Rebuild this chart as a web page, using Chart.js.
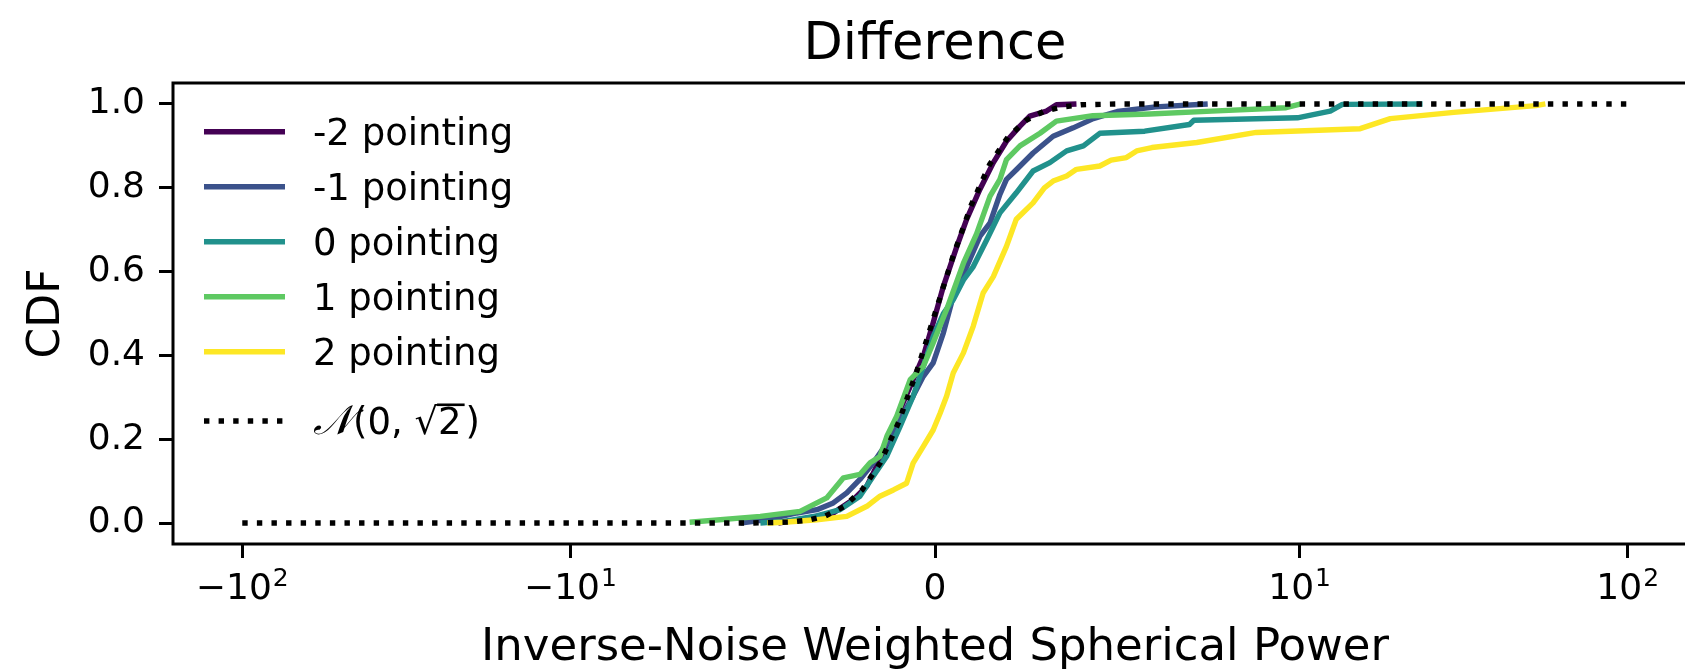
<!DOCTYPE html>
<html>
<head>
<meta charset="utf-8">
<script src="https://cdn.jsdelivr.net/npm/chart.js@4.4.0/dist/chart.umd.min.js"></script>
<style>
  html, body { margin: 0; padding: 0; background: #fff; overflow: hidden; }
  canvas { display: block; }
</style>
</head>
<body>
<canvas id="chart" width="1720" height="672"></canvas>
<script>
// ---- data ----
const seriesLabels = ['-2 pointing', '-1 pointing', '0 pointing', '1 pointing', '2 pointing'];
const seriesColors = ['#440154', '#3b528b', '#21918c', '#5ec962', '#fde725'];

const xM2 = [-4.3, -3.7, -2.79, -2.24, -1.87, -1.51, -1.23, -0.96, -0.6, -0.32, -0.05, 0.23, 0.6, 0.87, 1.23, 1.6, 1.96, 2.33, 2.6, 3.06, 3.33, 3.88];
const yM2 = [0.0, 0.008, 0.024, 0.056, 0.088, 0.152, 0.2, 0.27, 0.342, 0.398, 0.478, 0.565, 0.66, 0.725, 0.796, 0.86, 0.911, 0.947, 0.971, 0.983, 0.998, 1.0];

const xM1 = [-5.34, -4.61, -3.79, -3.24, -2.79, -2.42, -2.06, -1.69, -1.32, -0.96, -0.6, -0.32, -0.05, 0.23, 0.5, 0.87, 1.23, 1.51, 1.78, 1.96, 2.23, 2.69, 3.24, 3.79, 4.34, 5.0, 6.05, 7.48];
const yM1 = [0.0, 0.008, 0.024, 0.032, 0.048, 0.072, 0.104, 0.144, 0.191, 0.247, 0.303, 0.35, 0.382, 0.454, 0.541, 0.612, 0.684, 0.716, 0.784, 0.82, 0.843, 0.883, 0.923, 0.943, 0.965, 0.982, 0.993, 1.0];

const xP0 = [-4.79, -4.15, -3.24, -2.6, -2.06, -1.69, -1.32, -0.96, -0.6, -0.32, -0.05, 0.23, 0.5, 0.78, 1.05, 1.42, 1.78, 2.23, 2.69, 3.15, 3.61, 4.07, 4.52, 5.75, 6.98, 7.1, 9.94, 12.4, 13.5, 23.7];
const yP0 = [0.0, 0.004, 0.017, 0.032, 0.064, 0.112, 0.16, 0.23, 0.303, 0.374, 0.445, 0.5, 0.533, 0.58, 0.612, 0.676, 0.74, 0.788, 0.84, 0.86, 0.888, 0.9, 0.93, 0.935, 0.951, 0.961, 0.967, 0.983, 0.999, 1.0];

const xP1 = [-6.73, -4.79, -3.7, -2.97, -2.51, -2.06, -1.78, -1.51, -1.32, -1.05, -0.68, -0.32, -0.05, 0.32, 0.78, 1.14, 1.51, 1.78, 1.96, 2.33, 2.88, 3.33, 4.33, 5.88, 7.59, 9.63, 10.1];
const yP1 = [0.002, 0.016, 0.028, 0.06, 0.108, 0.116, 0.144, 0.159, 0.207, 0.255, 0.342, 0.374, 0.43, 0.51, 0.62, 0.69, 0.78, 0.82, 0.867, 0.9, 0.93, 0.959, 0.972, 0.976, 0.983, 0.991, 1.0];

const xP2 = [-4.6, -4.15, -3.24, -2.42, -1.87, -1.51, -1.14, -0.78, -0.6, -0.32, -0.05, 0.14, 0.32, 0.5, 0.78, 1.05, 1.32, 1.6, 1.96, 2.23, 2.69, 3.0, 3.24, 3.61, 3.88, 4.52, 4.83, 5.25, 5.53, 5.95, 7.18, 8.81, 15.3, 18.9, 29.5, 52.5, 56.1];
const yP2 = [0.0, 0.002, 0.008, 0.016, 0.04, 0.064, 0.079, 0.095, 0.143, 0.183, 0.222, 0.262, 0.303, 0.358, 0.406, 0.47, 0.549, 0.588, 0.66, 0.725, 0.764, 0.8, 0.816, 0.828, 0.844, 0.852, 0.866, 0.872, 0.888, 0.896, 0.908, 0.932, 0.941, 0.965, 0.98, 0.996, 1.0];

const xNorm = [-100, -10, -5, -4, -3.5, -3, -2.5, -2, -1.5, -1, -0.5, 0, 0.5, 1, 1.5, 2, 2.5, 3, 3.5, 4, 5, 10, 100];
const yNorm = [0, 0, 0.0002, 0.0023, 0.0067, 0.017, 0.039, 0.079, 0.144, 0.24, 0.362, 0.5, 0.638, 0.76, 0.856, 0.921, 0.961, 0.983, 0.993, 0.998, 1.0, 1.0, 1.0];

// x tick labels: base and exponent (drawn mathtext-style)
const xTickValues = [-100, -10, 0, 10, 100];
const xTickBase = ['\u221210', '\u221210', '0', '10', '10'];
const xTickExp = ['2', '1', '', '1', '2'];
const yTickValues = [0, 0.2, 0.4, 0.6, 0.8, 1.0];

// ---- symlog scale (linthresh 10, linscale 1, base 10) ----
const LINTHRESH = 10;
const LINSCALE = 1 / (1 - 1 / 10);

function fwd(v) {
    var a = Math.abs(v);
    if (a <= LINTHRESH) return v / LINTHRESH * LINSCALE;
    return Math.sign(v) * (LINSCALE + Math.log10(a / LINTHRESH));
}

function inv(t) {
    var a = Math.abs(t);
    if (a <= LINSCALE) return t / LINSCALE * LINTHRESH;
    return Math.sign(t) * LINTHRESH * Math.pow(10, a - LINSCALE);
}

class SymlogScale extends Chart.Scale {
    determineDataLimits() {
        var mm = this.getMinMax(true);
        this.min = this.options.min !== undefined ? this.options.min : mm.min;
        this.max = this.options.max !== undefined ? this.options.max : mm.max;
    }
    buildTicks() {
        return xTickValues.map(function (v) { return { value: v }; });
    }
    configure() {
        super.configure();
        this._t0 = fwd(this.min);
        this._tr = fwd(this.max) - this._t0;
    }
    getPixelForValue(v) {
        return this.getPixelForDecimal((fwd(v) - this._t0) / this._tr);
    }
    getValueForPixel(p) {
        return inv(this.getDecimalForPixel(p) * this._tr + this._t0);
    }
}
SymlogScale.id = 'symlog';
SymlogScale.defaults = {};
Chart.register(SymlogScale);

// matplotlib-like 5% margin in transformed space
var tLo = fwd(Math.min.apply(null, xNorm)),
    tHi = fwd(Math.max.apply(null, xNorm)),
    tPad = 0.05 * (tHi - tLo);
var xMin = inv(tLo - tPad),
    xMax = inv(tHi + tPad);

function pairs(xs, ys) {
    return xs.map(function (x, i) { return { x: x, y: ys[i] }; });
}

var seriesX = [xM2, xM1, xP0, xP1, xP2],
    seriesY = [yM2, yM1, yP0, yP1, yP2];

var datasets = seriesLabels.map(function (label, i) {
    return {
        label: label,
        data: pairs(seriesX[i], seriesY[i]),
        borderColor: seriesColors[i],
        borderWidth: 5.4,
        borderJoinStyle: 'round',
        showLine: true,
        pointRadius: 0,
        pointHoverRadius: 0,
        order: 5 - i
    };
});

datasets.push({
    label: 'N(0, \u221a2)',
    data: pairs(xNorm, yNorm),
    borderColor: '#000',
    borderWidth: 5.4,
    borderDash: [5.4, 9.2],
    showLine: true,
    pointRadius: 0,
    pointHoverRadius: 0,
    order: 0,
    isNormal: true
});

Chart.defaults.font.family = "'DejaVu Sans', sans-serif";
Chart.defaults.color = '#000';

// Frame around the axes (matplotlib spines)
var framePlugin = {
    id: 'frame',
    afterDatasetsDraw: function (chart) {
        var ctx = chart.ctx, a = chart.chartArea;
        ctx.save();
        ctx.lineWidth = 3;
        ctx.strokeStyle = '#000';
        ctx.strokeRect(a.left, a.top, a.right - a.left, a.bottom - a.top);
        ctx.restore();
    }
};

// x tick labels with raised exponents, placed by the x scale
var xLabelPlugin = {
    id: 'xLabels',
    afterDraw: function (chart) {
        var ctx = chart.ctx,
            sx = chart.scales.x,
            base = 599,
            fs = 36,
            fe = 25;
        ctx.save();
        ctx.fillStyle = '#000';
        ctx.textBaseline = 'alphabetic';
        ctx.textAlign = 'left';
        xTickValues.forEach(function (v, i) {
            var px = sx.getPixelForValue(v);
            ctx.font = fs + "px 'DejaVu Sans'";
            var wb = ctx.measureText(xTickBase[i]).width;
            ctx.font = fe + "px 'DejaVu Sans'";
            var we = xTickExp[i] ? ctx.measureText(xTickExp[i]).width + 1 : 0;
            var x0 = px - (wb + we) / 2;
            ctx.font = fs + "px 'DejaVu Sans'";
            ctx.fillText(xTickBase[i], x0, base);
            if (xTickExp[i]) {
                ctx.font = fe + "px 'DejaVu Sans'";
                ctx.fillText(xTickExp[i], x0 + wb + 1, base - 13);
            }
        });
        ctx.restore();
    }
};

// Legend inside the axes, upper left, no frame
var legendPlugin = {
    id: 'inlineLegend',
    afterDraw: function (chart) {
        var ctx = chart.ctx,
            fs = 37;
        ctx.save();
        ctx.font = fs + "px 'DejaVu Sans'";
        ctx.textBaseline = 'alphabetic';
        chart.data.datasets.forEach(function (ds, i) {
            var yc = ds.isNormal ? 421 : 131.7 + 55 * i;
            ctx.beginPath();
            ctx.setLineDash(ds.borderDash || []);
            ctx.lineWidth = ds.borderWidth;
            ctx.strokeStyle = ds.borderColor;
            ctx.lineCap = 'butt';
            ctx.moveTo(204, yc);
            ctx.lineTo(285, yc);
            ctx.stroke();
            ctx.setLineDash([]);

            var base = yc + 0.3645 * fs;
            ctx.fillStyle = '#000';
            if (!ds.isNormal) {
                ctx.fillText(ds.label, 313, base);
                return;
            }
            // N(0, sqrt 2) in mathtext style
            var x = 313;
            ctx.font = "italic " + (fs + 4) + "px 'DejaVu Serif'";
            ctx.fillText('\ud835\udca9', x, base);
            x += ctx.measureText('\ud835\udca9').width + 1;
            ctx.font = fs + "px 'DejaVu Sans'";
            ctx.fillText('(0,', x, base);
            x += ctx.measureText('(0, ').width;
            var rad = ctx.measureText('\u221a');
            ctx.fillText('\u221a', x, base);
            x += rad.width;
            var w2 = ctx.measureText('2').width;
            ctx.fillText('2', x, base);
            ctx.fillRect(x - 1, base - rad.actualBoundingBoxAscent, w2 + 4, 2.6);
            x += w2 + 4;
            ctx.fillText(')', x, base);
        });
        ctx.restore();
    }
};

var tickGrid = {
    display: true,
    drawOnChartArea: false,
    drawTicks: true,
    tickLength: 14,
    tickWidth: 3,
    tickColor: '#000'
};

new Chart(document.getElementById('chart'), {
    type: 'scatter',
    data: { datasets: datasets },
    options: {
        responsive: false,
        animation: false,
        events: [],
        layout: { padding: { left: 0, right: 23, top: 0, bottom: 0 } },
        plugins: {
            legend: { display: false },
            tooltip: { enabled: false },
            title: {
                display: true,
                text: 'Difference',
                fullSize: false,
                color: '#000',
                font: { size: 51, weight: 'normal', lineHeight: 1.2 },
                padding: { top: 15.4, bottom: 6.4 }
            }
        },
        scales: {
            x: {
                type: 'symlog',
                position: 'bottom',
                min: xMin,
                max: xMax,
                afterFit: function (s) { s.height = 128; },
                grid: tickGrid,
                border: { display: false },
                ticks: { display: false },
                title: {
                    display: true,
                    text: 'Inverse-Noise Weighted Spherical Power',
                    color: '#000',
                    font: { size: 45, lineHeight: 1 },
                    padding: { top: 0, bottom: 1 }
                }
            },
            y: {
                type: 'linear',
                min: -0.05,
                max: 1.05,
                afterBuildTicks: function (s) {
                    s.ticks = yTickValues.map(function (v) { return { value: v }; });
                },
                afterFit: function (s) { s.width = 173; },
                grid: tickGrid,
                border: { display: false },
                ticks: {
                    font: { size: 36 },
                    color: '#000',
                    padding: 14,
                    callback: function (v) { return v.toFixed(1); }
                },
                title: {
                    display: true,
                    text: 'CDF',
                    color: '#000',
                    font: { size: 44, lineHeight: 1.2 },
                    padding: { top: 21.6, bottom: 0 }
                }
            }
        }
    },
    plugins: [framePlugin, xLabelPlugin, legendPlugin]
});
</script>
</body>
</html>
